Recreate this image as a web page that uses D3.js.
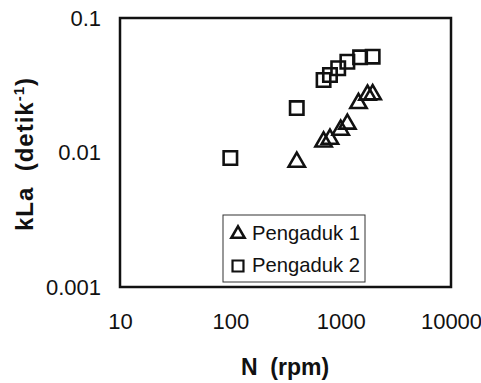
<!DOCTYPE html>
<html>
<head>
<meta charset="utf-8">
<script src="https://cdn.jsdelivr.net/npm/d3@7"></script>
<style>
  body { margin: 0; background: #fff; }
  text { font-family: "Liberation Sans", Arial, sans-serif; fill: #111; }
</style>
</head>
<body>
<div id="chart"></div>
<script>
const width = 481, height = 383;
const margin = {top: 18, right: 30, bottom: 96, left: 120};

// Pengaduk 1 (triangles)
const n1 = [400, 700, 800, 1000, 1150, 1450, 1750, 1950];
const kla1 = [0.0085, 0.012, 0.0126, 0.0147, 0.0163, 0.0232, 0.0268, 0.027];
// Pengaduk 2 (squares)
const n2 = [100, 400, 700, 800, 950, 1150, 1500, 1950];
const kla2 = [0.0091, 0.0214, 0.0346, 0.0377, 0.0423, 0.0473, 0.051, 0.0516];

const xTicks = [10, 100, 1000, 10000];
const yTicks = [0.001, 0.01, 0.1];
const legendLabels = ["Pengaduk 1", "Pengaduk 2"];

const svg = d3.select("#chart").append("svg")
    .attr("width", width)
    .attr("height", height);

const x = d3.scaleLog().domain([10, 10000]).range([margin.left, width - margin.right]);
const y = d3.scaleLog().domain([0.001, 0.1]).range([height - margin.bottom, margin.top]);

// axes (labels only, no tick marks)
const xAxis = svg.append("g")
    .attr("transform", "translate(0," + (height - margin.bottom) + ")")
    .call(d3.axisBottom(x).tickValues(xTicks).tickSize(0).tickPadding(26).tickFormat(d3.format("d")));
xAxis.select(".domain").remove();
xAxis.selectAll("text").attr("font-size", 22).style("font-family", "Liberation Sans, Arial, sans-serif").attr("fill", "#111");

const yAxis = svg.append("g")
    .attr("transform", "translate(" + margin.left + ",0)")
    .call(d3.axisLeft(y).tickValues(yTicks).tickSize(0).tickPadding(19).tickFormat(d => String(d)));
yAxis.select(".domain").remove();
yAxis.selectAll("text").attr("font-size", 22).style("font-family", "Liberation Sans, Arial, sans-serif").attr("fill", "#111");

// frame
svg.append("rect")
    .attr("x", margin.left)
    .attr("y", margin.top)
    .attr("width", width - margin.left - margin.right)
    .attr("height", height - margin.top - margin.bottom)
    .attr("fill", "none")
    .attr("stroke", "#111")
    .attr("stroke-width", 2.5);

const tri = d3.symbol().type(d3.symbolTriangle).size(115);
const sq = d3.symbol().type(d3.symbolSquare).size(180);

svg.append("g").selectAll("path")
    .data(d3.zip(n2, kla2))
    .enter().append("path")
    .attr("d", sq)
    .attr("transform", d => "translate(" + x(d[0]) + "," + y(d[1]) + ")")
    .attr("fill", "none").attr("stroke", "#111").attr("stroke-width", 2.6);

svg.append("g").selectAll("path")
    .data(d3.zip(n1, kla1))
    .enter().append("path")
    .attr("d", tri)
    .attr("transform", d => "translate(" + x(d[0]) + "," + y(d[1]) + ")")
    .attr("fill", "none").attr("stroke", "#111").attr("stroke-width", 2.6);

// legend
const legend = svg.append("g").attr("transform", "translate(223,215)");
legend.append("rect")
    .attr("width", 142).attr("height", 67)
    .attr("fill", "#fff").attr("stroke", "#333").attr("stroke-width", 1);
legend.append("path").attr("d", d3.symbol().type(d3.symbolTriangle).size(75))
    .attr("transform", "translate(15,19)")
    .attr("fill", "none").attr("stroke", "#111").attr("stroke-width", 2.6);
legend.append("path").attr("d", d3.symbol().type(d3.symbolSquare).size(120))
    .attr("transform", "translate(15,51)")
    .attr("fill", "none").attr("stroke", "#111").attr("stroke-width", 2.2);
legend.selectAll("text.lab")
    .data(legendLabels)
    .enter().append("text")
    .attr("class", "lab")
    .attr("x", 29)
    .attr("y", (d, i) => 25 + i * 32)
    .attr("font-size", 21)
    .attr("textLength", 108)
    .attr("lengthAdjust", "spacingAndGlyphs")
    .text(d => d);

// axis titles
svg.append("text")
    .attr("x", 285).attr("y", 375)
    .attr("text-anchor", "middle")
    .attr("font-size", 23).attr("font-weight", "bold")
    .attr("xml:space", "preserve")
    .text("N  (rpm)");

const yt = svg.append("text")
    .attr("transform", "translate(33,154) rotate(-90)")
    .attr("text-anchor", "middle")
    .attr("xml:space", "preserve")
    .attr("letter-spacing", 1)
    .attr("font-size", 24).attr("font-weight", "bold");
yt.append("tspan").text("kLa  (detik");
yt.append("tspan").attr("dy", -9).attr("font-size", 15).text("-1");
yt.append("tspan").attr("dy", 9).text(")");
</script>
</body>
</html>
